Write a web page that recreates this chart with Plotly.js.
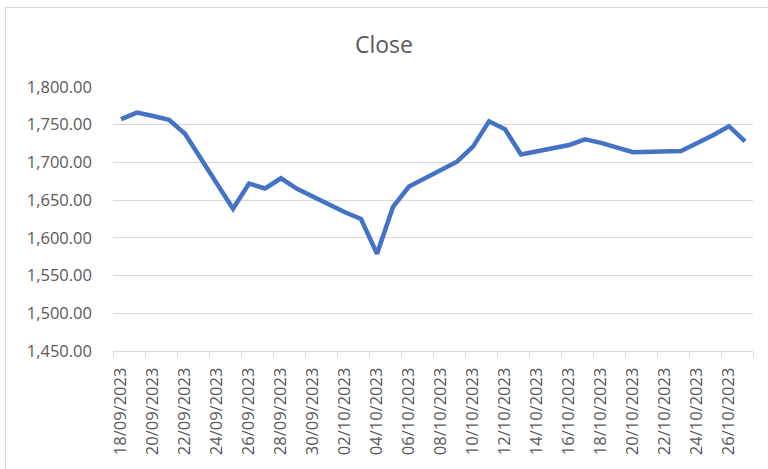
<!DOCTYPE html>
<html>
<head>
<meta charset="utf-8">
<script src="https://cdn.plot.ly/plotly-3.0.1.min.js"></script>
<style>
  html, body { margin: 0; padding: 0; overflow: hidden; background: #ffffff; }
  #frame { position: absolute; left: 5px; top: 7px; width: 800px; height: 520px;
           border: 1px solid #d9d9d9; box-sizing: border-box; }
  #chart { position: absolute; left: 0; top: 0; width: 768px; height: 469px; }
</style>
</head>
<body>
<div id="frame"></div>
<div id="chart"></div>
<script>
// Trading days and closing prices
const tradeDates = [
  '2023-09-18','2023-09-19','2023-09-20','2023-09-21','2023-09-22',
  '2023-09-25','2023-09-26','2023-09-27','2023-09-28','2023-09-29',
  '2023-10-02','2023-10-03','2023-10-04','2023-10-05','2023-10-06',
  '2023-10-09','2023-10-10','2023-10-11','2023-10-12','2023-10-13',
  '2023-10-16','2023-10-17','2023-10-18','2023-10-19','2023-10-20',
  '2023-10-23','2023-10-24','2023-10-25','2023-10-26','2023-10-27'
];
const closeValues = [
  1757.5, 1766.0, 1761.5, 1756.5, 1738.0,
  1638.5, 1672.0, 1665.5, 1679.0, 1665.0,
  1634.0, 1625.0, 1579.0, 1641.0, 1668.0,
  1701.0, 1721.0, 1754.5, 1744.0, 1710.5,
  1723.0, 1730.5, 1726.0, 1719.5, 1713.5,
  1715.0, 1725.0, 1736.0, 1748.0, 1728.0
];

// Axis labels every second calendar day
const tickDates = [
  '2023-09-18','2023-09-20','2023-09-22','2023-09-24','2023-09-26',
  '2023-09-28','2023-09-30','2023-10-02','2023-10-04','2023-10-06',
  '2023-10-08','2023-10-10','2023-10-12','2023-10-14','2023-10-16',
  '2023-10-18','2023-10-20','2023-10-22','2023-10-24','2023-10-26'
];
const tickLabels = tickDates.map(d => {
  const [y, m, day] = d.split('-');
  return day + '/' + m + '/' + y;
});

const grey = '#595959';
const lineGrey = '#d9d9d9';
const font = 'Open Sans, Segoe UI, sans-serif';

const trace = {
  x: tradeDates,
  y: closeValues,
  type: 'scatter',
  mode: 'lines',
  line: { color: '#4472c4', width: 4.5, shape: 'linear' },
  hoverinfo: 'x+y'
};

const layout = {
  width: 768,
  height: 469,
  margin: { l: 113, r: 15, t: 87, b: 118 },
  paper_bgcolor: 'rgba(0,0,0,0)',
  plot_bgcolor: '#ffffff',
  showlegend: false,
  title: {
    text: 'Close',
    font: { family: font, size: 23, color: grey },
    x: 0.5, xanchor: 'center',
    y: 0.905, yanchor: 'middle'
  },
  xaxis: {
    type: 'date',
    // each day occupies one slot; the point sits in the middle of its slot
    range: ['2023-09-17 12:00', '2023-10-27 12:00'],
    tickmode: 'array',
    tickvals: tickDates,
    ticktext: tickLabels,
    tickangle: -90,
    ticks: '',
    ticklabelstandoff: 9,
    tickfont: { family: font, size: 16.5, color: grey },
    showgrid: false,
    zeroline: false,
    showline: true,
    linecolor: lineGrey,
    linewidth: 1,
    minor: {
      ticks: 'outside',
      tick0: '2023-09-17 12:00',
      dtick: 2 * 86400000,
      ticklen: 5,
      tickcolor: lineGrey,
      tickwidth: 1,
      showgrid: false
    }
  },
  yaxis: {
    range: [1450, 1800],
    dtick: 50,
    tick0: 1450,
    tickformat: ',.2f',
    ticks: '',
    ticklabelstandoff: 20,
    tickfont: { family: font, size: 16.5, color: grey },
    showgrid: true,
    gridcolor: lineGrey,
    gridwidth: 1,
    zeroline: false,
    showline: false
  }
};

Plotly.newPlot('chart', [trace], layout, { displayModeBar: false, staticPlot: true });
</script>
</body>
</html>
